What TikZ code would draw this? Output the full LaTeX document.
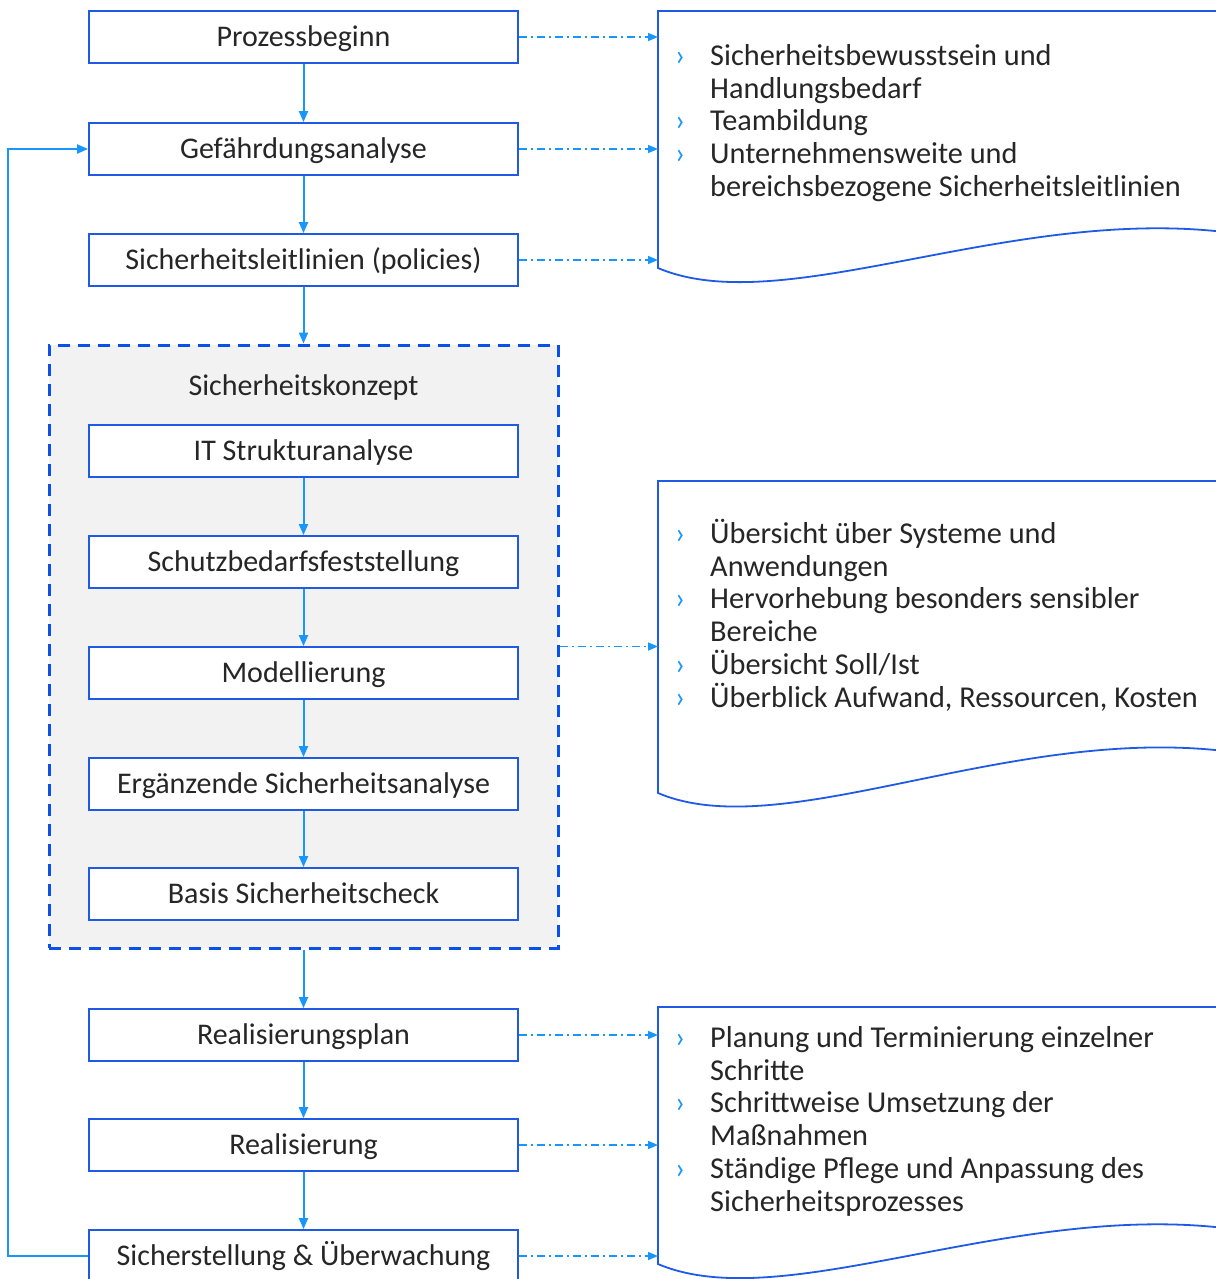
\documentclass[tikz,border=0pt]{standalone}
\usepackage{fontspec}
\setmainfont{Carlito}
\usetikzlibrary{arrows.meta}
\definecolor{boxblue}{RGB}{31,90,230}
\definecolor{lineblue}{RGB}{24,150,250}
\definecolor{dashblue}{RGB}{10,80,235}
\definecolor{txt}{RGB}{38,38,38}
\definecolor{panel}{RGB}{242,242,242}
\newcommand\docbul{\makebox[35pt][l]{\textcolor{lineblue}{›}}}
\newcommand\docind{\hspace*{35pt}}
\begin{document}
\begin{tikzpicture}[x=1pt,y=-1pt,
 stepbox/.style={draw=boxblue,line width=1.8pt,fill=white,minimum width=429pt,minimum height=52pt,inner sep=0pt,text height=19pt,text depth=0pt,font=\fontsize{30}{33}\selectfont,text=txt},
 flow/.style={draw=lineblue,line width=2pt,-{Triangle[length=11pt,width=9pt]}},
 info/.style={draw=lineblue,line width=1.6pt,dash pattern=on 8pt off 4pt on 2pt off 4pt,-{Triangle[length=10pt,width=8pt]}},
 doc/.style={draw=boxblue,line width=1.8pt,fill=white},
 doctext/.style={anchor=north west,inner sep=0pt,align=left,font=\fontsize{30.3}{32.8}\selectfont,text=txt},
 panelbox/.style={draw=dashblue,fill=panel,line width=3pt,dash pattern=on 12pt off 8pt,minimum width=509pt,minimum height=603pt,inner sep=0pt}]
\useasboundingbox (0,0) rectangle (1215,1279);

% documents
\draw[doc] (1240,231) -- (1215,231) .. controls (1000,210) and (780,320) .. (658,268) -- (658,11) -- (1240,11) -- cycle;
\draw[doc] (1240,750) -- (1215,750) .. controls (1000,729) and (780,845) .. (658,793) -- (658,481) -- (1240,481) -- cycle;
\draw[doc] (1240,1227) -- (1215,1227) .. controls (1000,1206) and (780,1316) .. (658,1264) -- (658,1007) -- (1240,1007) -- cycle;

\coordinate (d1a) at (658,37);
\coordinate (d1b) at (658,149);
\coordinate (d1c) at (658,260);
\coordinate (d2) at (658,646.5);
\coordinate (d3a) at (658,1035);
\coordinate (d3b) at (658,1145);
\coordinate (d3c) at (658,1256);

\node[doctext] (t1) at (675,40) {\rule{0pt}{25pt}\docbul Sicherheitsbewusstsein und\\ \docind Handlungsbedarf\\ \docbul Teambildung\\ \docbul Unternehmensweite und\\ \docind bereichsbezogene Sicherheitsleitlinien};
\node[doctext] (t2) at (675,518) {\rule{0pt}{25pt}\docbul Übersicht über Systeme und\\ \docind Anwendungen\\ \docbul Hervorhebung besonders sensibler\\ \docind Bereiche\\ \docbul Übersicht Soll/Ist\\ \docbul Überblick Aufwand, Ressourcen, Kosten};
\node[doctext] (t3) at (675,1022) {\rule{0pt}{25pt}\docbul Planung und Terminierung einzelner\\ \docind Schritte\\ \docbul Schrittweise Umsetzung der\\ \docind Maßnahmen\\ \docbul Ständige Pflege und Anpassung des\\ \docind Sicherheitsprozesses};

% panel
\node[panelbox] (sk) at (303.5,646.5) {};
\node[font=\fontsize{30}{33}\selectfont,text=txt,text height=19pt,text depth=0pt,inner sep=0pt] (sklabel) at (303.5,386) {Sicherheitskonzept};

% steps
\node[stepbox] (p1) at (303.5,37) {Prozessbeginn};
\node[stepbox] (p2) at (303.5,149) {Gefährdungsanalyse};
\node[stepbox] (p3) at (303.5,260) {Sicherheitsleitlinien (policies)};
\node[stepbox] (k1) at (303.5,451) {IT Strukturanalyse};
\node[stepbox] (k2) at (303.5,562) {Schutzbedarfsfeststellung};
\node[stepbox] (k3) at (303.5,673) {Modellierung};
\node[stepbox] (k4) at (303.5,784) {Ergänzende Sicherheitsanalyse};
\node[stepbox] (k5) at (303.5,894) {Basis Sicherheitscheck};
\node[stepbox] (p8) at (303.5,1035) {Realisierungsplan};
\node[stepbox] (p9) at (303.5,1145) {Realisierung};
\node[stepbox] (p10) at (303.5,1256) {Sicherstellung \& Überwachung};

% flow
\draw[flow] (p1) -- (p2);
\draw[flow] (p2) -- (p3);
\draw[flow] (p3) -- (sk.north);
\draw[flow] (k1) -- (k2);
\draw[flow] (k2) -- (k3);
\draw[flow] (k3) -- (k4);
\draw[flow] (k4) -- (k5);
\draw[flow] (sk.south) -- (p8);
\draw[flow] (p8) -- (p9);
\draw[flow] (p9) -- (p10);
\draw[flow] (p10.west) -- ++(-80,0) |- (p2.west);

% info links
\draw[info] (p1.east) -- (d1a);
\draw[info] (p2.east) -- (d1b);
\draw[info] (p3.east) -- (d1c);
\draw[info] (sk.east) -- (d2);
\draw[info] (p8.east) -- (d3a);
\draw[info] (p9.east) -- (d3b);
\draw[info] (p10.east) -- (d3c);
\end{tikzpicture}
\end{document}
